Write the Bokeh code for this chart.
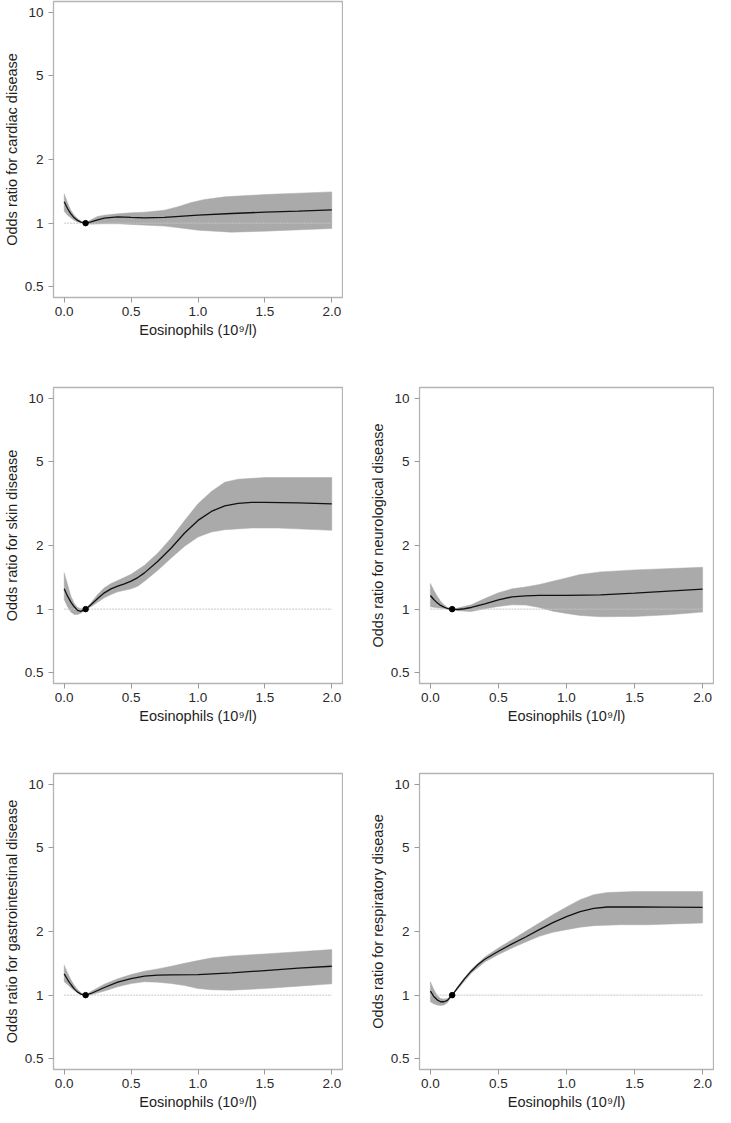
from bokeh.plotting import figure
from bokeh.layouts import column, row
from bokeh.models import Range1d, FixedTicker
from bokeh.embed import file_html
from bokeh.resources import INLINE

# ---------------- data ----------------
x_ticks = [0.0, 0.5, 1.0, 1.5, 2.0]
x_tick_labels = ["0.0", "0.5", "1.0", "1.5", "2.0"]
y_ticks = [0.5, 1, 2, 5, 10]
y_tick_labels = ["0.5", "1", "2", "5", "10"]

ref_x = [0.0, 2.0]          # horizontal reference line at OR = 1
ref_or = 1.0
ref_point_x = 0.16          # reference eosinophil count
x_title = "Eosinophils (10\u2079/l)"

# cardiac
cardiac_x = [0, 0.025, 0.05, 0.075, 0.1, 0.125, 0.16, 0.2, 0.25, 0.3, 0.4, 0.5, 0.6, 0.75, 1.0, 1.25, 1.5, 1.75, 2.0]
cardiac_or = [1.262, 1.173, 1.107, 1.06, 1.03, 1.011, 1.0, 1.015, 1.037, 1.056, 1.071, 1.064, 1.06, 1.064, 1.091, 1.111, 1.128, 1.14, 1.157]
cardiac_hi_x = [0, 0.025, 0.05, 0.075, 0.1, 0.125, 0.16, 0.2, 0.25, 0.3, 0.4, 0.5, 0.6, 0.75, 0.85, 0.95, 1.05, 1.2, 1.5, 2.0]
cardiac_hi = [1.377, 1.248, 1.148, 1.091, 1.052, 1.022, 1.0, 1.037, 1.075, 1.091, 1.107, 1.119, 1.127, 1.152, 1.195, 1.253, 1.295, 1.333, 1.367, 1.407]
cardiac_lo_x = [0, 0.025, 0.05, 0.075, 0.1, 0.16, 0.2, 0.3, 0.4, 0.5, 0.75, 0.9, 1.0, 1.25, 1.5, 2.0]
cardiac_lo = [1.14, 1.091, 1.06, 1.03, 1.011, 1.0, 0.989, 0.993, 0.993, 0.986, 0.968, 0.943, 0.926, 0.906, 0.916, 0.943]

# skin
skin_x = [0, 0.025, 0.05, 0.075, 0.1, 0.125, 0.16, 0.2, 0.25, 0.3, 0.35, 0.4, 0.45, 0.5, 0.55, 0.6, 0.7, 0.8, 0.9, 1.0, 1.1, 1.2, 1.3, 1.4, 1.5, 1.75, 2.0]
skin_or = [1.248, 1.152, 1.079, 1.026, 0.986, 0.975, 1.0, 1.048, 1.123, 1.195, 1.248, 1.285, 1.318, 1.357, 1.412, 1.486, 1.687, 1.951, 2.297, 2.637, 2.909, 3.094, 3.174, 3.209, 3.209, 3.197, 3.162]
skin_hi_x = [0, 0.025, 0.05, 0.075, 0.1, 0.125, 0.16, 0.2, 0.25, 0.3, 0.35, 0.4, 0.5, 0.6, 0.7, 0.8, 0.9, 1.0, 1.1, 1.2, 1.3, 1.5, 2.0]
skin_hi = [1.486, 1.308, 1.152, 1.064, 1.018, 1.004, 1.0, 1.071, 1.173, 1.262, 1.323, 1.367, 1.464, 1.615, 1.847, 2.176, 2.637, 3.162, 3.618, 4.004, 4.138, 4.213, 4.213]
skin_lo_x = [0, 0.025, 0.05, 0.075, 0.1, 0.125, 0.16, 0.2, 0.25, 0.3, 0.35, 0.4, 0.5, 0.55, 0.6, 0.7, 0.8, 0.9, 1.0, 1.1, 1.2, 1.4, 1.6, 2.0]
skin_lo = [1.111, 1.026, 0.968, 0.944, 0.944, 0.957, 1.0, 1.026, 1.079, 1.131, 1.173, 1.208, 1.248, 1.285, 1.357, 1.53, 1.75, 1.987, 2.199, 2.322, 2.382, 2.426, 2.426, 2.365]

# neurological
neuro_x = [0, 0.025, 0.05, 0.075, 0.1, 0.125, 0.16, 0.2, 0.25, 0.3, 0.4, 0.5, 0.6, 0.7, 0.8, 1.0, 1.25, 1.5, 1.75, 2.0]
neuro_or = [1.161, 1.111, 1.071, 1.041, 1.022, 1.007, 1.0, 0.996, 1.004, 1.018, 1.06, 1.107, 1.144, 1.157, 1.161, 1.161, 1.169, 1.19, 1.217, 1.243]
neuro_hi_x = [0, 0.025, 0.05, 0.075, 0.1, 0.125, 0.16, 0.2, 0.3, 0.4, 0.5, 0.6, 0.7, 0.8, 0.9, 1.0, 1.1, 1.25, 1.5, 2.0]
neuro_hi = [1.323, 1.23, 1.152, 1.091, 1.048, 1.018, 1.0, 1.011, 1.048, 1.123, 1.195, 1.248, 1.275, 1.308, 1.357, 1.407, 1.459, 1.502, 1.535, 1.58]
neuro_lo_x = [0, 0.05, 0.1, 0.16, 0.2, 0.3, 0.4, 0.5, 0.6, 0.7, 0.8, 0.9, 1.0, 1.1, 1.25, 1.5, 1.75, 2.0]
neuro_lo = [1.026, 1.015, 1.007, 1.0, 0.982, 0.975, 1.004, 1.03, 1.048, 1.045, 1.018, 0.978, 0.954, 0.933, 0.92, 0.923, 0.94, 0.968]

# gastrointestinal
gi_x = [0, 0.025, 0.05, 0.075, 0.1, 0.125, 0.16, 0.2, 0.25, 0.3, 0.4, 0.5, 0.6, 0.7, 0.8, 1.0, 1.25, 1.5, 1.75, 2.0]
gi_or = [1.262, 1.186, 1.123, 1.071, 1.033, 1.011, 1.0, 1.018, 1.052, 1.087, 1.152, 1.199, 1.23, 1.243, 1.248, 1.252, 1.275, 1.308, 1.342, 1.371]
gi_hi_x = [0, 0.025, 0.05, 0.075, 0.1, 0.125, 0.16, 0.2, 0.3, 0.4, 0.5, 0.6, 0.7, 0.8, 0.9, 1.0, 1.1, 1.25, 1.5, 2.0]
gi_hi = [1.387, 1.275, 1.182, 1.115, 1.064, 1.026, 1.0, 1.041, 1.127, 1.195, 1.252, 1.299, 1.332, 1.371, 1.417, 1.459, 1.502, 1.535, 1.569, 1.645]
gi_lo_x = [0, 0.025, 0.05, 0.075, 0.1, 0.125, 0.16, 0.2, 0.3, 0.4, 0.5, 0.6, 0.7, 0.8, 0.9, 1.0, 1.1, 1.25, 1.5, 1.75, 2.0]
gi_lo = [1.157, 1.123, 1.083, 1.052, 1.026, 1.007, 1.0, 1.004, 1.045, 1.095, 1.135, 1.157, 1.152, 1.135, 1.111, 1.075, 1.06, 1.056, 1.075, 1.103, 1.131]

# respiratory
resp_x = [0, 0.025, 0.05, 0.075, 0.1, 0.125, 0.16, 0.2, 0.25, 0.3, 0.35, 0.4, 0.5, 0.6, 0.7, 0.8, 0.9, 1.0, 1.1, 1.2, 1.3, 1.5, 1.75, 2.0]
resp_or = [1.045, 0.986, 0.95, 0.93, 0.93, 0.944, 1.0, 1.083, 1.195, 1.299, 1.397, 1.48, 1.615, 1.75, 1.888, 2.045, 2.207, 2.36, 2.49, 2.58, 2.62, 2.626, 2.617, 2.608]
resp_hi_x = [0, 0.025, 0.05, 0.075, 0.1, 0.125, 0.16, 0.2, 0.3, 0.4, 0.5, 0.6, 0.7, 0.8, 0.9, 1.0, 1.1, 1.2, 1.3, 1.5, 2.0]
resp_hi = [1.157, 1.064, 0.996, 0.964, 0.957, 0.964, 1.0, 1.099, 1.323, 1.518, 1.675, 1.834, 2.008, 2.2, 2.41, 2.617, 2.835, 2.996, 3.07, 3.1, 3.1]
resp_lo_x = [0, 0.025, 0.05, 0.075, 0.1, 0.125, 0.16, 0.2, 0.3, 0.4, 0.5, 0.6, 0.7, 0.8, 0.9, 1.0, 1.1, 1.2, 1.4, 1.6, 2.0]
resp_lo = [0.93, 0.91, 0.897, 0.894, 0.897, 0.92, 1.0, 1.067, 1.271, 1.438, 1.557, 1.675, 1.787, 1.902, 1.987, 2.045, 2.1, 2.136, 2.159, 2.159, 2.2]

FONT = "Liberation Sans"
FRAME_W = 294
FRAME_H = 296


def panel(ylabel, xs, ors, hx, hi, lx, lo, left_border, bottom_border):
    p = figure(width=left_border + FRAME_W + 1, height=1 + FRAME_H + bottom_border,
               x_range=Range1d(-0.08, 2.08), y_range=Range1d(0.4436, 11.27),
               y_axis_type="log", output_backend="svg", toolbar_location=None,
               min_border_left=left_border, min_border_right=1,
               min_border_top=1, min_border_bottom=bottom_border)
    p.grid.visible = False
    p.outline_line_color = "#b4b4b4"
    p.outline_line_width = 1.3
    p.background_fill_color = "white"
    p.border_fill_color = "white"

    band_x = list(hx) + list(lx)[::-1]
    band_y = list(hi) + list(lo)[::-1]
    p.patch(band_x, band_y, fill_color="#aaaaaa", line_color="#aaaaaa", line_width=0.5)
    p.line(ref_x, [ref_or] * len(ref_x), line_color="#c4c4c4", line_width=1, line_dash="2 1")
    p.line(xs, ors, line_color="#111111", line_width=1.3)
    p.scatter([ref_point_x], [ref_or], size=5.5, color="black")

    for ax in (p.xaxis[0], p.yaxis[0]):
        ax.axis_line_color = None
        ax.major_tick_line_color = "#9a9a9a"
        ax.major_tick_line_width = 1
        ax.major_tick_out = 5
        ax.major_tick_in = 0
        ax.minor_tick_line_color = None
        ax.major_label_text_font = FONT
        ax.major_label_text_font_size = "13.5px"
        ax.major_label_text_color = "#2a2a2a"
        ax.axis_label_text_font = FONT
        ax.axis_label_text_font_size = "14.5px"
        ax.axis_label_text_font_style = "normal"
        ax.axis_label_text_color = "#1e1e1e"

    p.xaxis.ticker = FixedTicker(ticks=x_ticks)
    p.xaxis.major_label_overrides = dict(zip(x_ticks, x_tick_labels))
    p.xaxis.major_label_standoff = 4
    p.xaxis.axis_label = x_title
    p.xaxis.axis_label_standoff = 3

    p.yaxis.ticker = FixedTicker(ticks=y_ticks)
    p.yaxis.major_label_overrides = dict(zip(y_ticks, y_tick_labels))
    p.yaxis.major_label_orientation = "horizontal"
    p.yaxis.major_label_standoff = 5
    p.yaxis.axis_label = ylabel
    p.yaxis.axis_label_standoff = 2
    return p


p1 = panel("Odds ratio for cardiac disease", cardiac_x, cardiac_or,
           cardiac_hi_x, cardiac_hi, cardiac_lo_x, cardiac_lo, 48, 89)
p2 = panel("Odds ratio for skin disease", skin_x, skin_or,
           skin_hi_x, skin_hi, skin_lo_x, skin_lo, 48, 89)
p3 = panel("Odds ratio for neurological disease", neuro_x, neuro_or,
           neuro_hi_x, neuro_hi, neuro_lo_x, neuro_lo, 76, 89)
p4 = panel("Odds ratio for gastrointestinal disease", gi_x, gi_or,
           gi_hi_x, gi_hi, gi_lo_x, gi_lo, 48, 44)
p5 = panel("Odds ratio for respiratory disease", resp_x, resp_or,
           resp_hi_x, resp_hi, resp_lo_x, resp_lo, 76, 44)

layout = column(row(p1), row(p2, p3), row(p4, p5))

open("out.html", "w").write(file_html(layout, INLINE))
